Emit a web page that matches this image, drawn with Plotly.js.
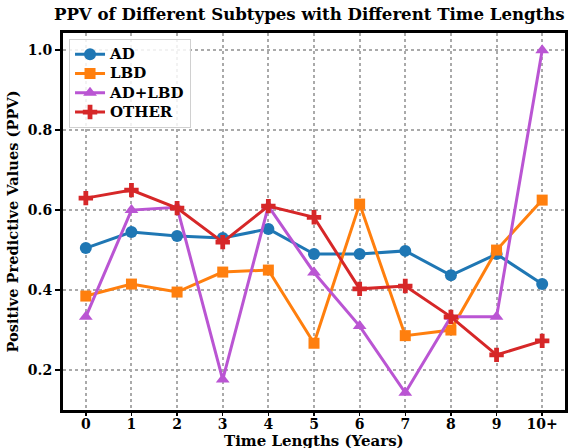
<!DOCTYPE html>
<html>
<head>
<meta charset="utf-8">
<script src="https://cdn.plot.ly/plotly-3.0.1.min.js"></script>
<style>html,body{margin:0;padding:0;background:#fff;}#chart{width:576px;height:448px;}</style>
</head>
<body>
<div id="chart"></div>
<script>
var categories = ["0","1","2","3","4","5","6","7","8","9","10+"];
var ad    = [0.505, 0.545, 0.535, 0.530, 0.553, 0.490, 0.490, 0.498, 0.437, 0.490, 0.415];
var lbd   = [0.385, 0.415, 0.395, 0.445, 0.450, 0.267, 0.615, 0.286, 0.300, 0.500, 0.625];
var adlbd = [0.333, 0.600, 0.607, 0.176, 0.610, 0.444, 0.310, 0.143, 0.333, 0.333, 1.000];
var other = [0.630, 0.650, 0.605, 0.520, 0.610, 0.582, 0.403, 0.410, 0.333, 0.238, 0.273];
var yTicks = [0.2, 0.4, 0.6, 0.8, 1.0];

var xIdx = categories.map(function(_, i){ return i; });
var font = "DejaVu Serif, serif";

function tr(name, y, color, symbol, size){
  return {x: xIdx, y: y, name: "<span style=\"font-size:15px\"><b>" + name + "</b></span>",
    type: "scatter", mode: "lines+markers",
    line: {color: color, width: 3},
    marker: {color: color, symbol: symbol, size: size, line: {width: 0}}};
}

var data = [
  tr("AD", ad, "#1f77b4", "circle", 12),
  tr("LBD", lbd, "#ff7f0e", "square", 11),
  tr("AD+LBD", adlbd, "#ba55d3", "triangle-up", 12),
  tr("OTHER", other, "#d62728", "cross", 12)
];

var layout = {
  width: 576, height: 448,
  margin: {l: 63, r: 11, t: 33, b: 38},
  paper_bgcolor: "#fff", plot_bgcolor: "#fff",
  font: {family: font, color: "#000"},
  title: {text: "<b>PPV of Different Subtypes with Different Time Lengths</b>",
    font: {family: font, size: 16.6, color: "#000"}, x: 0.537, xanchor: "center", y: 0.982, yanchor: "top"},
  xaxis: {range: [-0.5, 10.5], tickmode: "array", tickvals: xIdx,
    ticktext: categories.map(function(c){ return "<b>" + c + "</b>"; }),
    ticks: "outside", ticklen: 3, tickwidth: 1.5, tickcolor: "#000", ticklabelstandoff: -4,
    tickfont: {family: font, size: 14, color: "#000"},
    showgrid: true, gridcolor: "#aaaaaa", gridwidth: 2, griddash: "dot",
    showline: true, linecolor: "#000", linewidth: 3, mirror: true, zeroline: false},
  yaxis: {range: [0.1, 1.043], tickmode: "array", tickvals: yTicks,
    ticktext: yTicks.map(function(v){ return "<b>" + v.toFixed(1) + "</b>"; }),
    ticks: "outside", ticklen: 5, tickwidth: 1.5, tickcolor: "#000",
    tickfont: {family: font, size: 14, color: "#000"},
    showgrid: true, gridcolor: "#aaaaaa", gridwidth: 2, griddash: "dot",
    showline: true, linecolor: "#000", linewidth: 3, mirror: true, zeroline: false,
    title: {text: "<b>Positive Predictive Values (PPV)</b>", font: {family: font, size: 14.6, color: "#000"}, standoff: 6}},
  annotations: [{text: "<b>Time Lengths (Years)</b>", xref: "paper", yref: "paper",
    x: 0.5, y: -0.083, xanchor: "center", yanchor: "middle", showarrow: false,
    font: {family: font, size: 15, color: "#000"}}],
  legend: {x: 0.012, y: 0.985, xanchor: "left", yanchor: "top",
    bgcolor: "rgba(255,255,255,0.85)", bordercolor: "#d0d0d0", borderwidth: 1,
    font: {family: font, size: 12.5, color: "#000"}, tracegroupgap: 0},
  showlegend: true
};

Plotly.newPlot("chart", data, layout, {displayModeBar: false, staticPlot: true});
</script>
</body>
</html>
